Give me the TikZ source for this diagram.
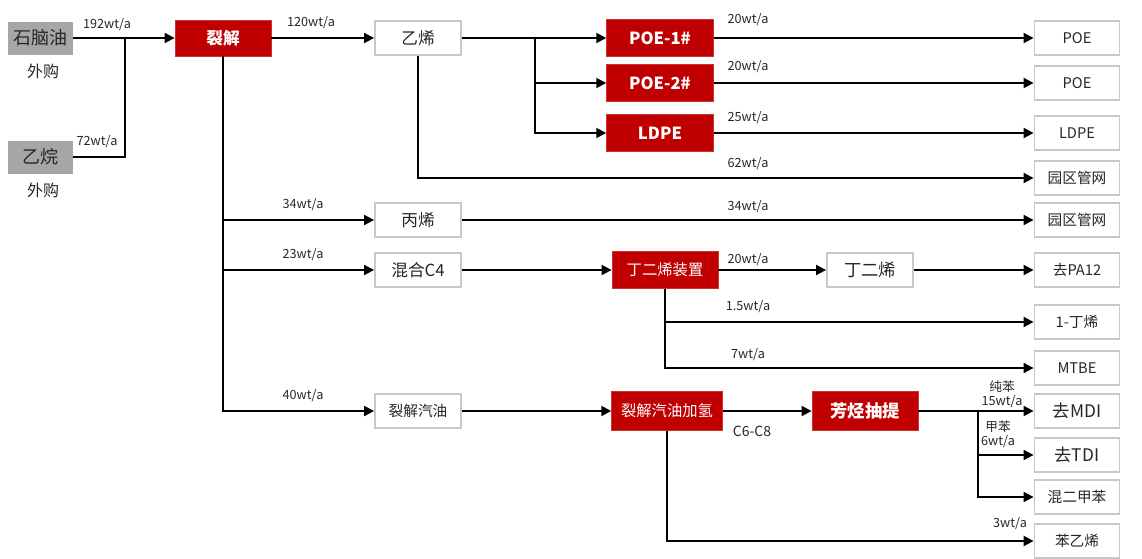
\documentclass[tikz,border=0pt]{standalone}
\usepackage{fontspec}
\setmainfont{Noto Sans CJK SC}
\usepackage{xcolor}
\usepackage{tikz}
\usetikzlibrary{arrows.meta}
\definecolor{flowred}{HTML}{C00000}
\definecolor{feedgray}{HTML}{A6A6A6}
\definecolor{boxgray}{HTML}{C8C8C8}
\definecolor{textdark}{HTML}{262626}

\begin{document}
\begin{tikzpicture}[
  x=0.75pt,y=-0.75pt,
  src/.style={fill=feedgray,text=textdark,inner sep=0pt,minimum width=48.75pt,minimum height=24.75pt,font=\fontsize{13.5}{15}\selectfont},
  unit/.style={fill=flowred,draw=flowred!80!white,line width=0.6pt,text=white,inner sep=0pt,minimum width=80pt,minimum height=28pt,font=\bfseries\fontsize{12.5}{14}\selectfont},
  mid/.style={draw=boxgray,line width=1.4pt,fill=white,text=textdark,inner sep=0pt,minimum width=64.5pt,minimum height=25.5pt,font=\fontsize{12.5}{14}\selectfont},
  prod/.style={mid,minimum width=63.75pt,font=\fontsize{11}{13}\selectfont},
  lbl/.style={inner sep=1pt,text=textdark,font=\fontsize{9.5}{11}\selectfont},
  ln/.style={line width=1.4pt},
  fl/.style={ln,-{Triangle[length=7.5pt,width=7.5pt]}}
]
\useasboundingbox (0,0) rectangle (1142,558);

% feed
\node[src] (nap) at (40,38) {石脑油};
\node[lbl,font=\fontsize{12}{14}\selectfont] (napb) at (43,71) {外购};
\node[src] (eta) at (40,157) {乙烷};
\node[lbl,font=\fontsize{12}{14}\selectfont] (etab) at (43,190) {外购};
\coordinate (j1) at (125,38);

% units
\node[unit,minimum width=72pt,minimum height=27pt] (crk) at (223,38) {裂解};
\node[unit] (poe1) at (660,38) {POE-1\#};
\node[unit] (poe2) at (660,83) {POE-2\#};
\node[unit] (ldpe) at (660,133) {LDPE};
\node[unit,minimum width=79.5pt,font=\fontsize{11.5}{13}\selectfont] (bdu) at (665,270) {丁二烯装置};
\node[unit,minimum width=83pt,minimum height=29pt,font=\fontsize{11.5}{13}\selectfont] (hyd) at (667,411) {裂解汽油加氢};
\node[unit,minimum width=79.5pt,minimum height=29pt,font=\bfseries\fontsize{13}{15}\selectfont] (aro) at (865,411) {芳烃抽提};

% intermediates
\node[mid] (ety) at (418,38) {乙烯};
\node[mid] (pro) at (418,220) {丙烯};
\node[mid] (mc4) at (418,270) {混合C4};
\node[mid,font=\fontsize{11}{13}\selectfont] (pgas) at (418,411) {裂解汽油};
\node[mid,font=\fontsize{13}{15}\selectfont] (bd) at (870,270) {丁二烯};

% products
\node[prod] (o1) at (1077,38) {POE};
\node[prod] (o2) at (1077,83) {POE};
\node[prod] (o3) at (1077,133) {LDPE};
\node[prod] (o4) at (1077,178) {园区管网};
\node[prod] (o5) at (1077,220) {园区管网};
\node[prod] (o6) at (1077,270) {去PA12};
\node[prod] (o7) at (1077,322) {1-丁烯};
\node[prod] (o8) at (1077,368) {MTBE};
\node[prod,font=\fontsize{13}{15}\selectfont] (o9) at (1077,411) {去MDI};
\node[prod,font=\fontsize{13}{15}\selectfont] (o10) at (1077,455) {去TDI};
\node[prod] (o11) at (1077,497) {混二甲苯};
\node[prod] (o12) at (1077,541) {苯乙烯};
\coordinate (j2) at (535,38);
\coordinate (j3) at (978,411);

% flows
\draw[fl] (nap) -- (crk);
\draw[ln] (eta) -| (j1);
\draw[fl] (crk) -- (ety);
\draw[fl] (crk.south) |- (pro);
\draw[fl] (crk.south) |- (mc4);
\draw[fl] (crk.south) |- (pgas);
\draw[fl] (ety) -- (poe1);
\draw[fl] (j2) |- (poe2);
\draw[fl] (j2) |- (ldpe);
\draw[fl] (ety.south) |- (o4);
\draw[fl] (poe1) -- (o1);
\draw[fl] (poe2) -- (o2);
\draw[fl] (ldpe) -- (o3);
\draw[fl] (pro) -- (o5);
\draw[fl] (mc4) -- (bdu);
\draw[fl] (bdu) -- (bd);
\draw[fl] (bd) -- (o6);
\draw[fl] (bdu.south) |- (o7);
\draw[fl] (bdu.south) |- (o8);
\draw[fl] (pgas) -- (hyd);
\draw[fl] (hyd) -- (aro);
\draw[fl] (hyd.south) |- (o12);
\draw[fl] (aro) -- (o9);
\draw[fl] (j3) |- (o10);
\draw[fl] (j3) |- (o11);

% rates
\node[lbl] (q1) at (107,25) {192wt/a};
\node[lbl] (q2) at (97,142) {72wt/a};
\node[lbl] (q3) at (311,23) {120wt/a};
\node[lbl] (q4) at (748,20) {20wt/a};
\node[lbl] (q5) at (748,67) {20wt/a};
\node[lbl] (q6) at (748,118) {25wt/a};
\node[lbl] (q7) at (748,164) {62wt/a};
\node[lbl] (q8) at (303,205) {34wt/a};
\node[lbl] (q9) at (748,207) {34wt/a};
\node[lbl] (q10) at (303,255) {23wt/a};
\node[lbl] (q11) at (748,260) {20wt/a};
\node[lbl] (q12) at (748,307) {1.5wt/a};
\node[lbl] (q13) at (748,355) {7wt/a};
\node[lbl] (q14) at (303,396) {40wt/a};
\node[lbl,font=\fontsize{10.5}{12}\selectfont] (q15) at (752,431) {C6-C8};
\node[lbl,align=center,font=\fontsize{9.5}{10.5}\selectfont] (q16) at (1002,394) {纯苯\\15wt/a};
\node[lbl,align=center,font=\fontsize{9.5}{10.5}\selectfont] (q17) at (998,434) {甲苯\\6wt/a};
\node[lbl] (q18) at (1010,524) {3wt/a};
\end{tikzpicture}
\end{document}
